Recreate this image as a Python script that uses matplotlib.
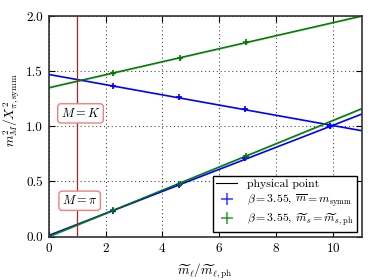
import numpy as np
import matplotlib
matplotlib.use("Agg")
import matplotlib.pyplot as plt

plt.rcParams['font.family'] = 'serif'
plt.rcParams['font.serif'] = ['cmr10']
plt.rcParams['mathtext.fontset'] = 'cm'
plt.rcParams['axes.formatter.use_mathtext'] = True
plt.rcParams['font.size'] = 9

# symmetric ensembles (m_bar = m_symm)
x_symm = [2.27, 4.58, 6.90, 9.90]
pi_symm = [0.235, 0.470, 0.710, 1.000]
k_symm = [1.365, 1.262, 1.158, 1.000]
# ensembles at physical strange mass
x_sph = [2.27, 4.60, 6.95]
pi_sph = [0.240, 0.478, 0.730]
k_sph = [1.480, 1.615, 1.760]
err = [0.012, 0.012, 0.012, 0.012]

# fit lines (endpoints at x=0 and x=11)
fit_x = [0, 11]
fit_pi_symm = [0.01, 1.11]
fit_k_symm = [1.47, 0.96]
fit_pi_sph = [0.0, 1.16]
fit_k_sph = [1.35, 2.0]

blue = '#0000ff'
green = '#007a00'

fig = plt.figure(figsize=(3.74, 2.8), dpi=100)
ax = fig.add_axes([0.13, 0.155, 0.837, 0.788])

ax.plot(fit_x, fit_pi_symm, color=blue, lw=1.2)
ax.plot(fit_x, fit_k_symm, color=blue, lw=1.2)
ax.fill_between(fit_x, np.array(fit_pi_sph) - 0.006, np.array(fit_pi_sph) + 0.006,
                color=green, alpha=0.6, lw=0)
ax.fill_between(fit_x, np.array(fit_k_sph) - 0.006, np.array(fit_k_sph) + 0.006,
                color=green, alpha=0.6, lw=0)
ax.plot(fit_x, fit_pi_sph, color=green, lw=1.0)
ax.plot(fit_x, fit_k_sph, color=green, lw=1.0)

ax.axvline(1.0, color='#b22222', lw=0.9)

ax.errorbar(x_symm, pi_symm, yerr=err, xerr=0.05, fmt='+', color=blue, ms=5,
            mew=1.2, capsize=0, lw=1)
ax.errorbar(x_symm, k_symm, yerr=err, xerr=0.05, fmt='+', color=blue, ms=5,
            mew=1.2, capsize=0, lw=1)
ax.errorbar(x_sph, pi_sph, yerr=err[:3], xerr=0.05, fmt='+', color=green, ms=5,
            mew=1.2, capsize=0, lw=1)
ax.errorbar(x_sph, k_sph, yerr=err[:3], xerr=0.05, fmt='+', color=green, ms=5,
            mew=1.2, capsize=0, lw=1)

# legend handles
h_line, = ax.plot([], [], color='black', lw=0.8)
h_b = ax.errorbar([], [], yerr=[], xerr=[], fmt='none', color=blue, alpha=0.6, capsize=3)
h_g = ax.errorbar([], [], yerr=[], xerr=[], fmt='none', color=green, alpha=0.6, capsize=3)
leg = ax.legend([h_line, h_b, h_g],
                ['physical point',
                 r'$\beta=3.55$, $\overline{m}=m_{\rm symm}$',
                 r'$\beta=3.55$, $\widetilde{m}_s=\widetilde{m}_{s,\rm ph}$'],
                loc='lower right', fancybox=False, edgecolor='black',
                framealpha=1, fontsize=8.5, borderpad=0.3, labelspacing=0.25,
                handlelength=1.8, handletextpad=0.8, borderaxespad=0.4)
leg.get_frame().set_linewidth(1.0)

box = dict(boxstyle='round,pad=0.25', facecolor='white', edgecolor='#f08080', lw=1.0)
ax.text(1.12, 1.117, r'$M=K$', ha='center', va='center', fontsize=9, bbox=box)
ax.text(1.09, 0.325, r'$M=\pi$', ha='center', va='center', fontsize=9, bbox=box)

ax.set_xlim(0, 11)
ax.set_ylim(0, 2)
ax.set_xticks([0, 2, 4, 6, 8, 10])
ax.set_yticks([0.0, 0.5, 1.0, 1.5, 2.0])
ax.set_yticklabels(['0.0', '0.5', '1.0', '1.5', '2.0'])
ax.grid(True, color='0.3', linestyle=(0, (1, 2.5)), lw=0.8)
ax.tick_params(direction='in', top=True, right=True, length=4, width=0.8,
               labelsize=9.5, pad=4)
for s in ax.spines.values():
    s.set_linewidth(1.2)
    s.set_color('#333333')

ax.set_xlabel(r'$\widetilde{m}_\ell/\widetilde{m}_{\ell,\rm ph}$', fontsize=9.5)
ax.set_ylabel(r'$m_M^2/X_{\pi,\rm symm}^2$', fontsize=9.5)
ax.xaxis.set_label_coords(0.5, -0.115)
ax.yaxis.set_label_coords(-0.085, 0.574)

fig.savefig('out.png', dpi=100)
